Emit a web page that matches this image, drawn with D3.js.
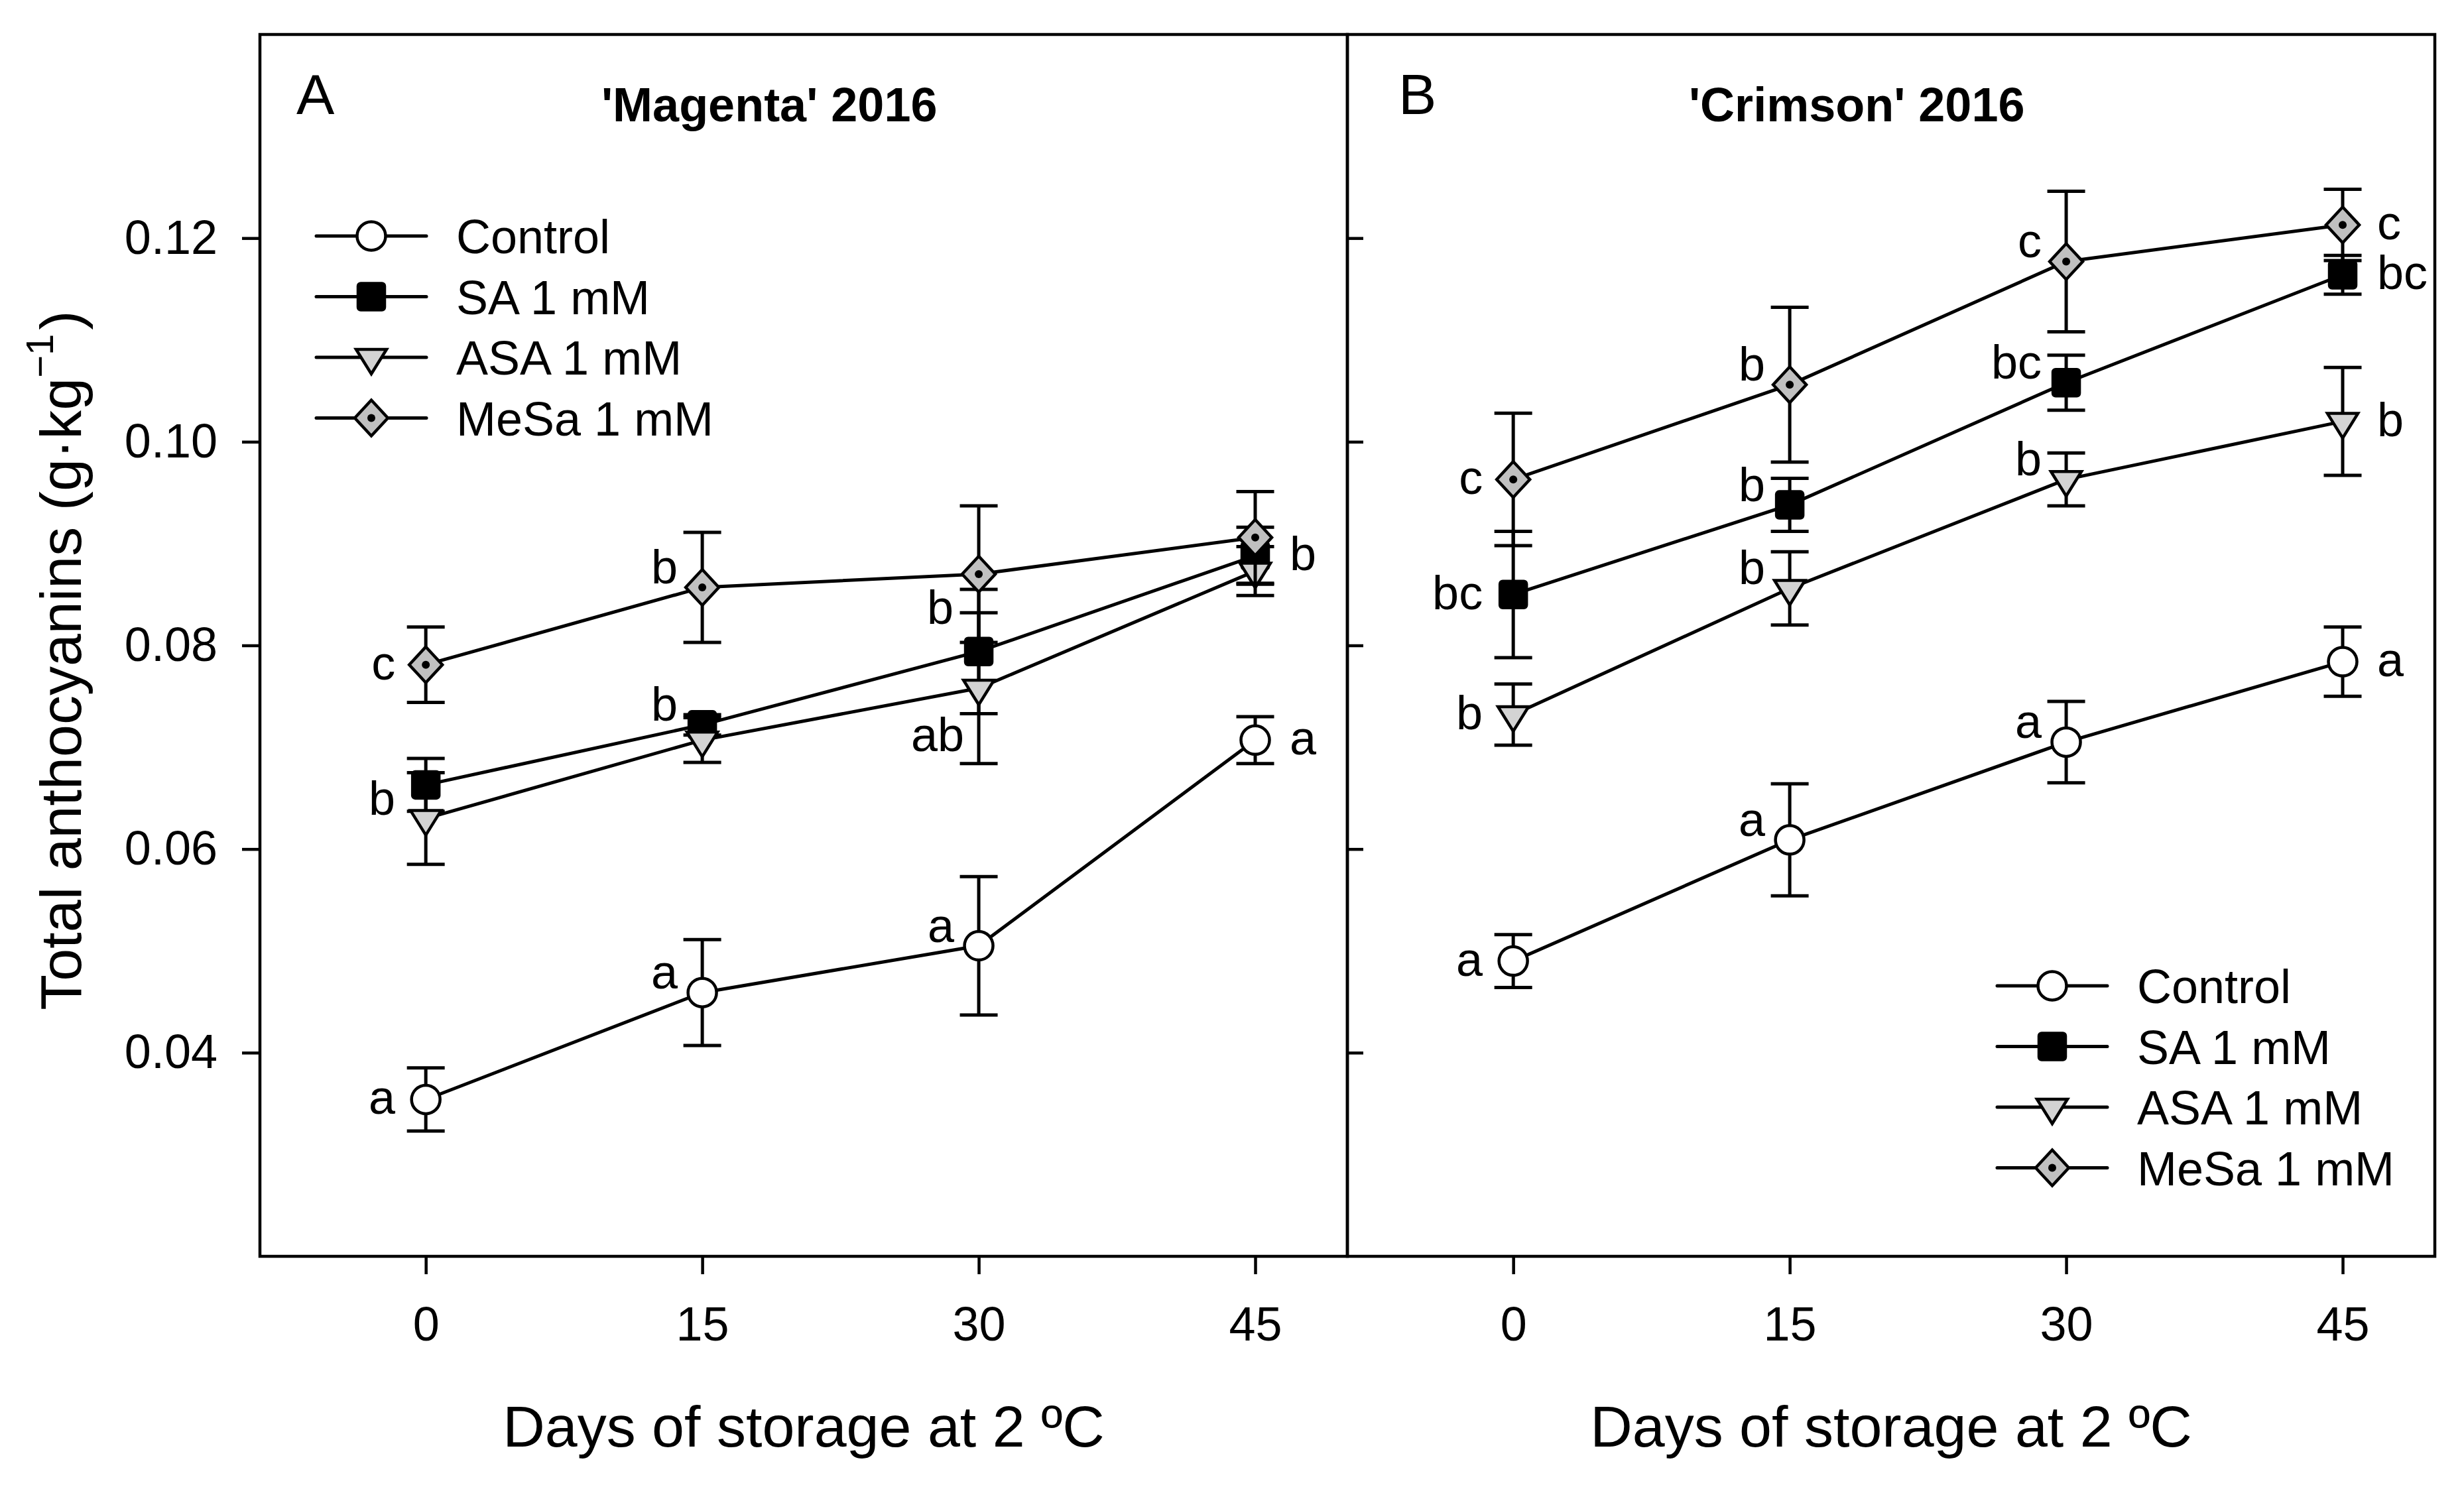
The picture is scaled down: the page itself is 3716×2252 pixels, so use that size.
<!DOCTYPE html>
<html>
<head>
<meta charset="utf-8">
<script src="https://cdn.jsdelivr.net/npm/d3@7/dist/d3.min.js"></script>
<style>
  body { margin: 0; background: #fff; }
  text { font-family: "Liberation Sans", Arial, sans-serif; fill: #000; }
</style>
</head>
<body>
<div id="chart"></div>
<script>
// ---- data ----
const days = [0, 15, 30, 45];
const seriesNames = ["Control", "SA 1 mM", "ASA 1 mM", "MeSa 1 mM"];
const yTicks = [0.04, 0.06, 0.08, 0.10, 0.12];

// A: 'Magenta' 2016
const magentaControl    = [0.0354, 0.0459, 0.0505, 0.0707];
const magentaControlErr = [0.0031, 0.0052, 0.0068, 0.0023];
const magentaSA         = [0.0663, 0.0722, 0.0794, 0.0888];
const magentaSAErr      = [0.0026, 0.0010, 0.0061, 0.0028];
const magentaASA        = [0.0630, 0.0707, 0.0758, 0.0873];
const magentaASAErr     = [0.0045, 0.0022, 0.0074, 0.0024];
const magentaMeSa       = [0.0781, 0.0857, 0.0870, 0.0906];
const magentaMeSaErr    = [0.0037, 0.0054, 0.0067, 0.0045];
const magentaLetters = [
  ["a", "a", "a", "a"],
  ["", "b", "b", "b"],
  ["b", "", "ab", ""],
  ["c", "b", "", ""]
];

// B: 'Crimson' 2016
const crimsonControl    = [0.0490, 0.0609, 0.0705, 0.0784];
const crimsonControlErr = [0.0026, 0.0055, 0.0040, 0.0034];
const crimsonSA         = [0.0850, 0.0938, 0.1058, 0.1164];
const crimsonSAErr      = [0.0062, 0.0026, 0.0027, 0.0019];
const crimsonASA        = [0.0732, 0.0856, 0.0963, 0.1020];
const crimsonASAErr     = [0.0030, 0.0036, 0.0026, 0.0053];
const crimsonMeSa       = [0.0963, 0.1056, 0.1177, 0.1213];
const crimsonMeSaErr    = [0.0065, 0.0076, 0.0069, 0.0035];
const crimsonLetters = [
  ["a", "a", "a", "a"],
  ["bc", "b", "bc", "bc"],
  ["b", "b", "b", "b"],
  ["c", "b", "c", "c"]
];

// ---- layout ----
const W = 3716, H = 2252;
const plotTop = 52, plotBottom = 1895, plotW = 1640;
const markers = ["circle", "square", "triangle", "diamond"];

const panels = [
  { id: "A", left: 392, title: "'Magenta' 2016", letterDx: 55,
    values: [magentaControl, magentaSA, magentaASA, magentaMeSa],
    errors: [magentaControlErr, magentaSAErr, magentaASAErr, magentaMeSaErr],
    letters: magentaLetters, legend: [477, 356] },
  { id: "B", left: 2032, title: "'Crimson' 2016", letterDx: 77,
    values: [crimsonControl, crimsonSA, crimsonASA, crimsonMeSa],
    errors: [crimsonControlErr, crimsonSAErr, crimsonASAErr, crimsonMeSaErr],
    letters: crimsonLetters, legend: [3012, 1487] }
];

// a few letters sit off the usual spot to dodge error bars
const letterTweak = {
  "A-2-0": { dx: -46, dy: -6 },
  "A-1-2": { dx: -38, dy: -42 },
  "A-2-2": { dx: -22, dy: 95 }
};

const svg = d3.select("#chart").append("svg")
  .attr("width", W).attr("height", H)
  .attr("viewBox", `0 0 ${W} ${H}`);

const y = d3.scaleLinear().domain([0.02, 0.14]).range([plotBottom, plotTop]);

function drawMarker(g, kind, cx, cy) {
  const m = g.append("g").attr("transform", `translate(${cx},${cy})`);
  if (kind === "circle") {
    m.append("circle").attr("r", 21.5)
      .attr("fill", "#fff").attr("stroke", "#000").attr("stroke-width", 4.5);
  } else if (kind === "square") {
    m.append("rect").attr("x", -20).attr("y", -20).attr("width", 40).attr("height", 40)
      .attr("rx", 4).attr("fill", "#000").attr("stroke", "#000").attr("stroke-width", 4.5);
  } else if (kind === "triangle") {
    m.append("path").attr("d", "M-23,-12L23,-12L0,25Z")
      .attr("fill", "#d3d3d3").attr("stroke", "#000").attr("stroke-width", 4.5)
      .attr("stroke-linejoin", "miter");
  } else {
    m.append("path").attr("d", "M0,-27L25,0L0,27L-25,0Z")
      .attr("fill", "#c0c0c0").attr("stroke", "#000").attr("stroke-width", 4.5);
    m.append("circle").attr("r", 6).attr("fill", "#000");
  }
}

panels.forEach(p => {
  const x = d3.scaleLinear().domain([-9, 50]).range([p.left, p.left + plotW]);
  const g = svg.append("g");

  // axes
  const yAxis = p.id === "A"
    ? d3.axisLeft(y).tickValues(yTicks).tickFormat(d3.format(".2f")).tickSize(27).tickPadding(37)
    : d3.axisRight(y).tickValues(yTicks).tickFormat("").tickSize(24);
  const ya = g.append("g").attr("transform", `translate(${p.left},0)`).call(yAxis);
  const xa = g.append("g").attr("transform", `translate(0,${plotBottom})`)
    .call(d3.axisBottom(x).tickValues(days).tickSize(27).tickPadding(49));
  [ya, xa].forEach(a => {
    a.select(".domain").remove();
    a.selectAll(".tick line").attr("stroke", "#000").attr("stroke-width", 4.5);
    a.selectAll(".tick text").attr("font-size", 72)
      .style("font-family", '"Liberation Sans", Arial, sans-serif');
  });

  // frame
  g.append("rect").attr("x", p.left).attr("y", plotTop)
    .attr("width", plotW).attr("height", plotBottom - plotTop)
    .attr("fill", "none").attr("stroke", "#000").attr("stroke-width", 4.5);

  // series
  const line = d3.line().x((d, i) => x(days[i])).y(d => y(d));
  p.values.forEach((vals, s) => {
    const errs = p.errors[s];
    const sg = g.append("g");
    vals.forEach((v, i) => {
      const cx = x(days[i]);
      sg.append("line").attr("x1", cx).attr("x2", cx)
        .attr("y1", y(v - errs[i])).attr("y2", y(v + errs[i]))
        .attr("stroke", "#000").attr("stroke-width", 5);
      [v - errs[i], v + errs[i]].forEach(e => {
        sg.append("line").attr("x1", cx - 28.5).attr("x2", cx + 28.5)
          .attr("y1", y(e)).attr("y2", y(e))
          .attr("stroke", "#000").attr("stroke-width", 5);
      });
    });
    sg.append("path").datum(vals).attr("d", line)
      .attr("fill", "none").attr("stroke", "#000").attr("stroke-width", 5);
    vals.forEach((v, i) => drawMarker(sg, markers[s], x(days[i]), y(v)));
  });

  // significance letters
  p.letters.forEach((row, s) => {
    row.forEach((t, i) => {
      if (!t) return;
      const cx = x(days[i]), cy = y(p.values[s][i]);
      let pos;
      if (days[i] === 45) pos = { dx: 52, dy: 22, anchor: "start" };
      else if (days[i] === 0) pos = { dx: -46, dy: 22, anchor: "end" };
      else pos = { dx: -37, dy: -6, anchor: "end" };
      const tw = letterTweak[`${p.id}-${s}-${i}`];
      if (tw) pos = Object.assign({}, pos, tw);
      g.append("text").attr("x", cx + pos.dx).attr("y", cy + pos.dy)
        .attr("text-anchor", pos.anchor).attr("font-size", 72).text(t);
    });
  });

  // panel letter and title
  g.append("text").attr("x", p.left + p.letterDx).attr("y", 172)
    .attr("font-size", 86).text(p.id);
  g.append("text").attr("x", p.left + 515).attr("y", 183)
    .attr("font-size", 72).attr("font-weight", "bold").text(p.title);

  // legend
  const [lx, ly] = p.legend;
  seriesNames.forEach((name, s) => {
    const ry = ly + s * 91.5;
    g.append("line").attr("x1", lx).attr("x2", lx + 166).attr("y1", ry).attr("y2", ry)
      .attr("stroke", "#000").attr("stroke-width", 5).attr("stroke-linecap", "round");
    drawMarker(g, markers[s], lx + 83, ry);
    g.append("text").attr("x", lx + 211).attr("y", ry + 26)
      .attr("font-size", 72).text(name);
  });

  // x axis title
  g.append("text").attr("x", p.left + plotW / 2).attr("y", 2182)
    .attr("text-anchor", "middle").attr("font-size", 88)
    .text("Days of storage at 2 ºC");
});

// y axis title
const yt = svg.append("text")
  .attr("transform", "translate(122,996) rotate(-90)")
  .attr("text-anchor", "middle").attr("font-size", 88);
yt.append("tspan").text("Total anthocyanins (g·kg");
yt.append("tspan").attr("font-size", 58).attr("dy", -42).text("−1");
yt.append("tspan").attr("dy", 42).attr("dx", 6).text(")");
</script>
</body>
</html>
